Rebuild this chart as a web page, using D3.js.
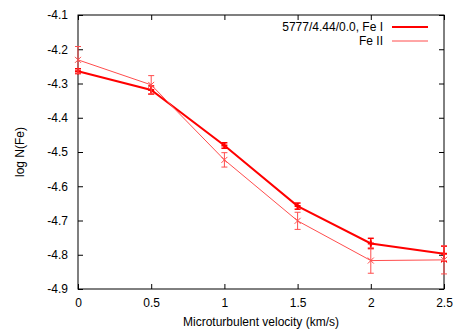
<!DOCTYPE html>
<html>
<head>
<meta charset="utf-8">
<script src="https://cdn.jsdelivr.net/npm/d3@7"></script>
<style>
  body { margin: 0; background: #fff; }
  text { font-family: "Liberation Sans", Arial, sans-serif; }
</style>
</head>
<body>
<div id="chart"></div>
<script>
// data
const velocity = [0, 0.5, 1, 1.5, 2, 2.5];
const feI = [-4.264, -4.319, -4.481, -4.658, -4.767, -4.797];
const feIErr = [0.007, 0.012, 0.008, 0.009, 0.015, 0.022];
const feII = [-4.231, -4.304, -4.523, -4.701, -4.817, -4.815];
const feIIErr = [0.039, 0.027, 0.021, 0.025, 0.037, 0.041];
const xTicks = [0, 0.5, 1, 1.5, 2, 2.5];
const yTicks = [-4.1, -4.2, -4.3, -4.4, -4.5, -4.6, -4.7, -4.8, -4.9];
const seriesNames = ["5777/4.44/0.0, Fe I", "Fe II"];

const W = 463, H = 331;
const margin = { top: 15, right: 19, bottom: 42, left: 78 };
const width = W - margin.left - margin.right;
const height = H - margin.top - margin.bottom;

const svg = d3.select("#chart").append("svg")
  .attr("width", W).attr("height", H);
const g = svg.append("g")
  .attr("transform", `translate(${margin.left},${margin.top})`);

const x = d3.scaleLinear().domain([0, 2.5]).range([0, width]);
const y = d3.scaleLinear().domain([-4.9, -4.1]).range([height, 0]);

// axes with ticks pointing inwards, mirrored like gnuplot
const tick = 5;
g.append("g").attr("transform", `translate(0,${height})`)
  .call(d3.axisBottom(x).tickValues(xTicks).tickSizeInner(-tick).tickSizeOuter(0).tickPadding(9)
    .tickFormat(d3.format("")));
g.append("g")
  .call(d3.axisTop(x).tickValues(xTicks).tickSizeInner(-tick).tickSizeOuter(0).tickFormat(""));
g.append("g")
  .call(d3.axisLeft(y).tickValues(yTicks).tickSizeInner(-tick).tickSizeOuter(0).tickPadding(10)
    .tickFormat(d3.format(".1f")));
g.append("g").attr("transform", `translate(${width},0)`)
  .call(d3.axisRight(y).tickValues(yTicks).tickSizeInner(-tick).tickSizeOuter(0).tickFormat(""));

g.selectAll(".domain").remove();
g.selectAll(".tick line").attr("stroke", "#000");
g.selectAll(".tick text").attr("font-size", 12).attr("fill", "#000")
  .text(function () { return this.textContent.replace("−", "-"); });

g.append("rect").attr("width", width).attr("height", height)
  .attr("fill", "none").attr("stroke", "#000").attr("stroke-width", 1);

// axis titles
svg.append("text").attr("x", margin.left + width / 2).attr("y", 326)
  .attr("text-anchor", "middle").attr("font-size", 12).text("Microturbulent velocity (km/s)");
svg.append("text").attr("transform", `translate(24,${margin.top + height / 2}) rotate(-90)`)
  .attr("text-anchor", "middle").attr("font-size", 12).text("log N(Fe)");

// series
const series = [
  { vals: feI, err: feIErr, color: "#ff0000", w: 2, mark: "plus" },
  { vals: feII, err: feIIErr, color: "#ff4d4d", w: 1, mark: "cross" }
];

const line = d3.line().x(d => x(d[0])).y(d => y(d[1]));

series.forEach(s => {
  const pts = velocity.map((v, i) => [v, s.vals[i], s.err[i]]);
  const sg = g.append("g").attr("stroke", s.color).attr("fill", "none");
  sg.append("path").attr("d", line(pts)).attr("stroke-width", s.w);
  pts.forEach(p => {
    const cx = x(p[0]), cy = y(p[1]);
    const y0 = y(p[1] - p[2]), y1 = y(p[1] + p[2]);
    sg.append("line").attr("x1", cx).attr("x2", cx).attr("y1", y0).attr("y2", y1)
      .attr("stroke-width", s.w === 2 ? 1.5 : 1);
    [y0, y1].forEach(yy => sg.append("line")
      .attr("x1", cx - 3).attr("x2", cx + 3).attr("y1", yy).attr("y2", yy)
      .attr("stroke-width", s.w === 2 ? 1.5 : 1));
    if (s.mark === "plus") {
      sg.append("path").attr("d", `M${cx - 3},${cy}H${cx + 3}M${cx},${cy - 3}V${cy + 3}`)
        .attr("stroke-width", 2);
    } else {
      sg.append("path").attr("d", `M${cx - 3},${cy - 3}L${cx + 3},${cy + 3}M${cx - 3},${cy + 3}L${cx + 3},${cy - 3}`)
        .attr("stroke-width", 1);
    }
  });
});

// legend
const legend = g.append("g");
series.forEach((s, i) => {
  const ly = 12 + i * 14;
  legend.append("text").attr("x", 305).attr("y", ly + 4).attr("text-anchor", "end")
    .attr("font-size", 12).text(seriesNames[i]);
  legend.append("line").attr("x1", 314).attr("x2", 350).attr("y1", ly).attr("y2", ly)
    .attr("stroke", s.color).attr("stroke-width", s.w);
});
</script>
</body>
</html>
